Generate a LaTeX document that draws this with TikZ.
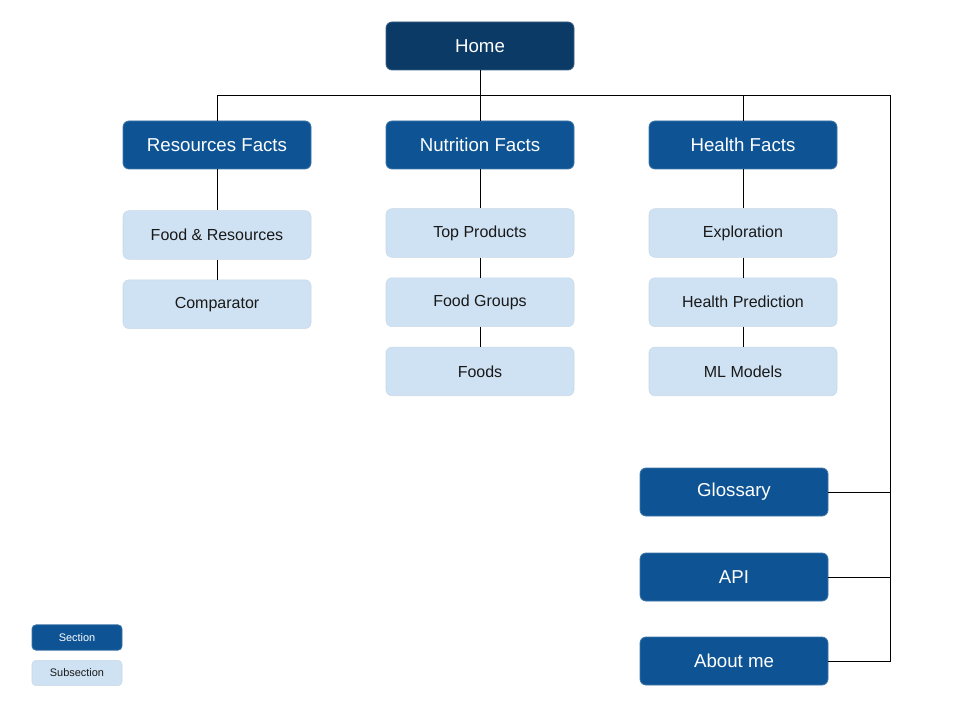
\documentclass[tikz,border=0pt]{standalone}
\usepackage{fontspec}
\setmainfont{Liberation Sans}
\usetikzlibrary{positioning}
\definecolor{homeblue}{RGB}{11,58,102}
\definecolor{secblue}{RGB}{14,84,148}
\definecolor{subblue}{RGB}{207,226,243}
\tikzset{
    homebox/.style={rectangle, draw=homeblue!80!white, fill=homeblue, rounded corners=4.5pt, minimum width=141pt, minimum height=36pt, align=center, text=white, font=\fontsize{14}{16}\selectfont, line width=0.6pt},
    secbox/.style={rectangle, draw=secblue!80!white, fill=secblue, rounded corners=4.5pt, minimum width=141pt, minimum height=36pt, align=center, text=white, font=\fontsize{14}{16}\selectfont, line width=0.6pt},
    subbox/.style={rectangle, draw=subblue!90!gray, fill=subblue, rounded corners=4.5pt, minimum width=141pt, minimum height=36.5pt, align=center, text=black!90, font=\fontsize{12}{14}\selectfont, line width=0.4pt},
    legsec/.style={secbox, minimum width=67.5pt, minimum height=19pt, rounded corners=3pt, font=\fontsize{8.2}{9}\selectfont},
    legsub/.style={subbox, minimum width=67.5pt, minimum height=19pt, rounded corners=3pt, font=\fontsize{8.2}{9}\selectfont},
    link/.style={draw=black, line width=0.75pt}
}

\begin{document}
\begin{tikzpicture}[x=0.75pt, y=-0.75pt]
\useasboundingbox (0,0) rectangle (960,720);

% top level
\node[homebox] (home) at (480,46) {Home};
\node[secbox] (res) at (217,145) {Resources Facts};
\node[secbox] (nutr) at (480,145) {Nutrition Facts};
\node[secbox] (health) at (743,145) {Health Facts};
\coordinate (bus) at (890,96);

% subsections
\node[subbox, below=30.75pt of res] (foodres) {Food \& Resources};
\node[subbox, below=15pt of foodres] (comp) {Comparator};
\node[subbox, below=29.25pt of nutr] (topprod) {Top Products};
\node[subbox, below=15pt of topprod] (groups) {Food Groups};
\node[subbox, below=15pt of groups] (foods) {Foods};
\node[subbox, below=29.25pt of health] (explo) {Exploration};
\node[subbox, below=15pt of explo] (pred) {Health Prediction};
\node[subbox, below=15pt of pred] (mlmod) {ML Models};

% extra sections
\node[secbox] (gloss) at (734,492) {Glossary};
\node[secbox] (api) at (734,577) {API};
\node[secbox] (about) at (734,661) {About me};

% legend
\node[legsec] (legs) at (77,637.5) {Section};
\node[legsub] (legu) at (77,673) {Subsection};

% links
\draw[link] (home) -- (nutr);
\draw[link] (res.north) |- (bus) -- (bus |- about.east) -- (about.east);
\draw[link] (health.north) -- (health.north |- bus);
\draw[link] (gloss.east) -- (gloss.east -| bus);
\draw[link] (api.east) -- (api.east -| bus);
\draw[link] (res) -- (foodres);
\draw[link] (foodres) -- (comp);
\draw[link] (nutr) -- (topprod);
\draw[link] (topprod) -- (groups);
\draw[link] (groups) -- (foods);
\draw[link] (health) -- (explo);
\draw[link] (explo) -- (pred);
\draw[link] (pred) -- (mlmod);

\end{tikzpicture}
\end{document}
